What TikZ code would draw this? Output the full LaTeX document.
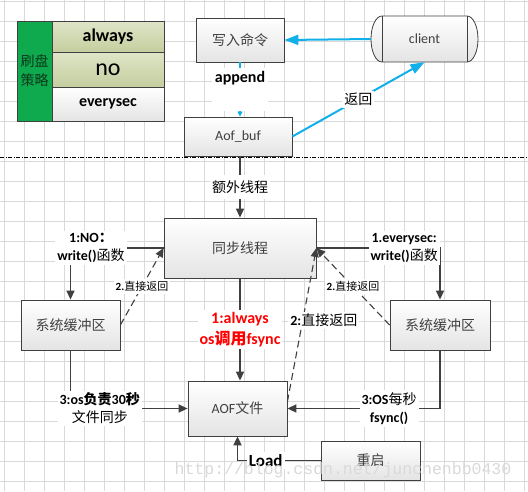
\documentclass[tikz,border=0pt]{standalone}
\usepackage{fontspec}
\setmainfont{Carlito}
\newfontfamily\cjk{Noto Sans CJK SC}
\newfontfamily\markfont{Liberation Mono}
\usepackage{tikz}
\usetikzlibrary{positioning}
\usetikzlibrary{arrows.meta}
\newcommand{\zh}[1]{{\cjk #1}}
\newcommand{\fs}[1]{\fontsize{#1}{#1}\selectfont}

\definecolor{boxline}{HTML}{404040}
\definecolor{boxshade}{HTML}{E4E4E4}
\definecolor{boxtext}{HTML}{404040}
\definecolor{gridgray}{HTML}{D9D9D9}
\definecolor{cyanline}{HTML}{12B0EA}
\definecolor{flowline}{HTML}{404040}
\definecolor{olivetop}{HTML}{DFE5C8}
\definecolor{olivebot}{HTML}{C5CE9E}
\definecolor{tablegreen}{HTML}{0FA94E}
\definecolor{greentext}{HTML}{0B3A1C}

\tikzset{
    box/.style={draw=boxline, line width=0.8pt, top color=white, bottom color=boxshade,
        text=boxtext, font=\fontsize{14}{17}\selectfont, inner sep=0pt},
    cell/.style={draw=boxline, line width=0.8pt, inner sep=0pt, minimum width=112pt},
    flow/.style={draw=flowline, line width=1.4pt, -{Triangle[length=9pt, width=8pt]}},
    back/.style={flow, line width=1.1pt, dash pattern=on 7pt off 4pt},
    cyanflow/.style={draw=cyanline, line width=2pt, -{Triangle[length=14pt, width=10pt]}},
    tag/.style={fill=white, align=center, font=\fontsize{14}{18}\selectfont, inner sep=2pt},
    smalltag/.style={tag, font=\fontsize{11}{13}\selectfont},
}

\begin{document}
\begin{tikzpicture}[x=1pt, y=-1pt]
    \useasboundingbox (0,0) rectangle (528,491);
    \fill[white] (0,0) rectangle (528,491);
    % grid
    \foreach \gx in {4,24,...,524}
        \draw[gridgray, line width=0.8pt] (\gx,0) -- (\gx,491);
    \foreach \gy in {1,21,...,481}
        \draw[gridgray, line width=0.8pt] (0,\gy) -- (528,\gy);

    % table
    \node[cell, fill=tablegreen, minimum width=35pt, minimum height=100pt, align=center,
          text=greentext, font=\cjk\fontsize{14}{19}\selectfont] (Tab_G) at (34.5,71) {刷盘\\策略};
    \node[cell, top color=olivetop, bottom color=olivebot, minimum height=31pt, font=\bfseries\fs{18}]
          (Tab_A) at (108,36.5) {always};
    \node[cell, top color=olivetop, bottom color=olivebot, minimum height=35pt, font=\fs{24}]
          (Tab_N) at (108,69.5) {no};
    \node[cell, top color=white, bottom color=boxshade, minimum height=34pt, font=\bfseries\fs{16}]
          (Tab_E) at (108,104) {everysec};

    % upper part
    \node[box, minimum width=88pt, minimum height=44pt] (Cmd) at (240,40) {\zh{写入命令}};
    \draw[draw=boxline, line width=0.8pt, top color=white, bottom color=boxshade]
        (382,16) -- (467,16) arc[start angle=90, end angle=-90, x radius=11pt, y radius=23pt]
        -- (382,62) arc[start angle=270, end angle=90, x radius=11pt, y radius=23pt] -- cycle;
    \draw[boxline, line width=0.8pt] (382,16) -- (382,62) (467,16) -- (467,62);
    \node[minimum width=107pt, minimum height=46pt, inner sep=0pt, text=boxtext,
          font=\fs{14}] (Client) at (424.5,39) {client};
    \node[box, minimum width=108pt, minimum height=39pt] (Buf) at (238,136.5) {Aof\_buf};

    \draw[cyanflow] (Client.west) -- (Cmd.east);
    \draw[cyanflow, line width=1.5pt, -{Triangle[length=5pt, width=5pt]}] (Cmd.south) -- (Cmd.south |- Buf.north)
        node[pos=0.09, anchor=north, fill=white, minimum width=54pt, inner sep=3pt, text depth=26pt,
             font=\bfseries\fs{16}] {append};
    \draw[cyanflow] (Buf.east) -- (Client.south)
        node[tag, midway, font=\cjk\fs{14}] {返回};

    \draw[black, line width=0.8pt, dash pattern=on 4pt off 1.5pt on 1pt off 1.5pt] (0,157) -- (528,157);

    % lower part
    \node[box, minimum width=152pt, minimum height=60pt] (Sync) at (240,248) {\zh{同步线程}};
    \node[box, minimum width=99pt, minimum height=50pt] (Buf_L) at (70.5,325) {\zh{系统缓冲区}};
    \node[box, minimum width=100pt, minimum height=50pt] (Buf_R) at (440,325) {\zh{系统缓冲区}};
    \node[box, minimum width=99pt, minimum height=55pt] (Aof) at (237.5,408.5) {AOF\zh{文件}};
    \node[box, minimum width=99pt, minimum height=39pt] (Restart) at (370.5,460.5) {\zh{重启}};

    \draw[flow] (Sync.north |- Buf.south) -- (Sync.north)
        node[tag, midway, inner ysep=6pt, font=\cjk\fs{14}] {额外线程};

    \draw[flow] (Sync.west) -| (Buf_L.north)
        node[tag, pos=0.39] {{\bfseries 1:NO\zh{：}}\\{\bfseries write()}\zh{函数}};
    \draw[back] (Buf_L.east) -- (Sync.west)
        node[smalltag, midway] {{\bfseries 2.}\zh{直接返回}};
    \draw[flow] (Sync.east) -| (Buf_R.north)
        node[tag, pos=0.355] {{\bfseries 1.everysec:}\\{\bfseries write()}\zh{函数}};
    \draw[back] (Buf_R.west) -- (Sync.east)
        node[smalltag, midway] {{\bfseries 2.}\zh{直接返回}};

    \draw[flow] (Sync.south) -- (Sync.south |- Aof.north)
        node[tag, midway, text=red, font=\bfseries\fontsize{16}{21}\selectfont]
        {1:always\\os\zh{调用}fsync};
    \draw[back] ([yshift=-21pt]Aof.north east) -- (Sync.east)
        node[tag, pos=0.53, xshift=21pt] {{\bfseries 2:}\zh{直接返回}};

    \draw[flow] (Buf_L.south) |- (Aof.west)
        node[tag, pos=0.625] {{\bfseries 3:os\zh{负责}30\zh{秒}}\\\zh{文件同步}};
    \draw[flow] (Buf_R.south) |- (Aof.east)
        node[tag, pos=0.667] {{\bfseries 3:OS}\zh{每秒}\\{\bfseries fsync()}};
    \draw[flow, line width=1.8pt] (Restart.west) -| (Aof.south)
        node[tag, pos=0.33, font=\bfseries\fs{17}] {Load};

    % watermark
    \node[text=gray!30, font=\markfont\fs{16.5}] (Mark) at (343,470) {http://blog.csdn.net/junchenbb0430};
\end{tikzpicture}
\end{document}
